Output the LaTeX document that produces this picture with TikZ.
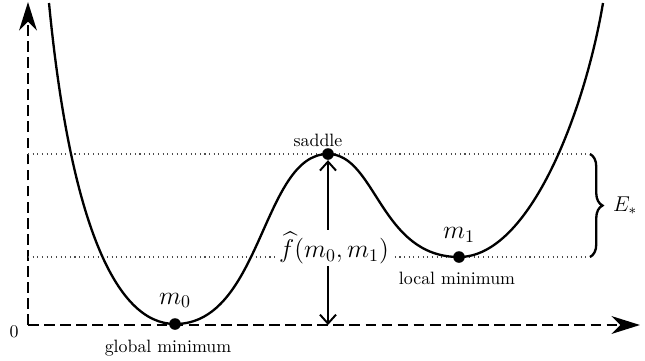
\documentclass[tikz,border=0pt]{standalone}
\usepackage{amsmath}
\usepackage{amssymb}
\usepackage{xcolor}
\usepackage{tikz}
\usetikzlibrary{arrows.meta,positioning,calc,decorations.pathreplacing}

\tikzset{
    axis/.style={line width=1.3pt, dashed, dash pattern=on 6pt off 3pt, -{Stealth[length=16pt,width=10pt,inset=5pt]}},
    dot/.style={circle, fill=black, inner sep=0pt, minimum size=6.5pt},
    guide/.style={dotted, line width=0.6pt, black!70},
    mlabel/.style={font=\Large},
}

\begin{document}
\begin{tikzpicture}[x=0.56pt, y=-0.56pt]
    \useasboundingbox (0,0) rectangle (645,360);

    % Axes
    \coordinate (O) at (28,325);
    \draw[axis] (O) -- (640,325);
    \draw[axis] (O) -- (28,2);
    \node (zero) at (14,332) {0};

    % Critical points
    \node[dot] (gmin) at (175,324) {};
    \node[dot] (saddle) at (328,154) {};
    \node[dot] (lmin) at (459,257) {};
    \coordinate (sbase) at (328,325);
    \coordinate (btop) at (590,154);
    \coordinate (bbot) at (590,257);

    % Levels
    \draw[guide] (O |- saddle) -- (btop);
    \draw[guide] (O |- lmin) -- (bbot);

    % Energy curve
    \draw[line width=1.3pt] (49,3) .. controls (70,220) and (115,324) .. (gmin.center)
        .. controls (262,324) and (262,154) .. (saddle.center)
        .. controls (376,154) and (380,257) .. (lmin.center)
        .. controls (530,257) and (585,110) .. (603,3);

    % Barrier height
    \draw[line width=1.1pt, {Straight Barb[length=5pt,width=9pt]}-{Straight Barb[length=5pt,width=9pt]}] (saddle) -- (sbase);
    \node[mlabel, fill=white, inner sep=1pt] (fhat) at (334,248) {$\widehat{f}(m_0,m_1)$};

    % Brace
    \draw[line width=1.3pt, decorate, decoration={brace, amplitude=7pt}] (btop) -- (bbot)
        node[midway, right=9pt, font=\large] (Estar) {$E_*$};

    % Annotations
    \node[mlabel, above=2pt of gmin] (m0) {$m_0$};
    \node[mlabel, above=1pt of lmin] (m1) {$m_1$};
    \node (glabel) at (168,348) {global minimum};
    \node (slabel) at (318,140) {saddle};
    \node (llabel) at (457,278) {local minimum};
\end{tikzpicture}
\end{document}
